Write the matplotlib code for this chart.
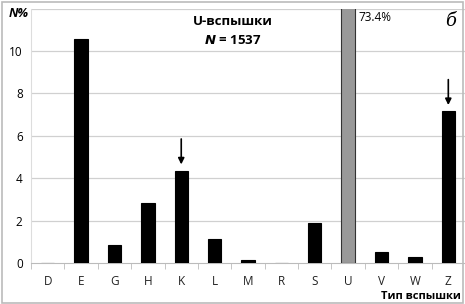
import numpy as np
import matplotlib.pyplot as plt
from matplotlib.patches import Rectangle

plt.rcParams['font.family'] = ['Open Sans', 'DejaVu Sans']

# типы вспышек и доли (%)
categories = ["D", "E", "G", "H", "K", "L", "M", "R", "S", "U", "V", "W", "Z"]
values = [0.0, 10.55, 0.85, 2.82, 4.35, 1.15, 0.12, 0.0, 1.9, 73.4, 0.5, 0.28, 7.15]
arrow_cats = ["K", "Z"]
yticks = [0, 2, 4, 6, 8, 10]

fig = plt.figure(figsize=(4.65, 3.04), dpi=100)
ax = fig.add_axes([0.0667, 0.1349, 0.9333, 0.8368])

x = np.arange(len(categories))
colors = ["#999999" if c == "U" else "black" for c in categories]
edges = ["#333333" if c == "U" else "black" for c in categories]
ax.bar(x, values, width=0.4, color=colors, edgecolor=edges, linewidth=0.8, zorder=3)

ax.set_xlim(-0.5, len(categories) - 0.5)
ax.set_ylim(0, 12)
ax.set_yticks(yticks)
ax.set_yticklabels([str(v) for v in yticks], fontsize=8.5)
ax.set_xticks(x)
ax.set_xticklabels(categories, fontsize=8.5, color="#222222")
ax.tick_params(axis="x", length=0, pad=9)
ax.tick_params(axis="y", length=0, pad=6)
ax.set_xticks(np.arange(-0.5, len(categories), 1), minor=True)
ax.tick_params(axis="x", which="minor", length=4, color="#bbbbbb", direction="out")

for v in [2, 4, 6, 8, 10, 12]:
    ax.axhline(v, color="#d0d0d0", linewidth=0.9, zorder=1)

for s in ["top", "right"]:
    ax.spines[s].set_visible(False)
ax.spines["left"].set_color("#dddddd")
ax.spines["bottom"].set_color("#bbbbbb")

# стрелки над K и Z
for c in arrow_cats:
    i = categories.index(c)
    ax.annotate("", xy=(i, values[i] + 0.3), xytext=(i, values[i] + 1.5),
                arrowprops=dict(arrowstyle="-|>", color="black", lw=1.2,
                                mutation_scale=9, shrinkA=0, shrinkB=0))

ax.text(5.55, 11.37, "U-вспышки", ha="center", va="center", fontsize=9.5, fontweight="bold")
ax.text(5.55, 10.5, "$\\boldsymbol{N}$ = 1537", ha="center", va="center",
        fontsize=9.5, fontweight="bold")
ax.text(9.3, 11.6, "73.4%", ha="left", va="center", fontsize=8.5)
ax.text(12.06, 11.4, "б", ha="center", va="center", fontsize=13,
        family="DejaVu Serif", style="italic")

fig.text(0.041, 0.957, "N%", ha="center", va="center", fontsize=9,
         fontweight="bold", style="italic")
fig.text(0.905, 0.024, "Тип вспышки", ha="center", va="center", fontsize=8,
         fontweight="bold")

fig.patches.append(Rectangle((0.004, 0.004), 0.992, 0.99, transform=fig.transFigure,
                             fill=False, edgecolor="#bbbbbb", linewidth=1.2))

fig.savefig("out.png", dpi=100)
